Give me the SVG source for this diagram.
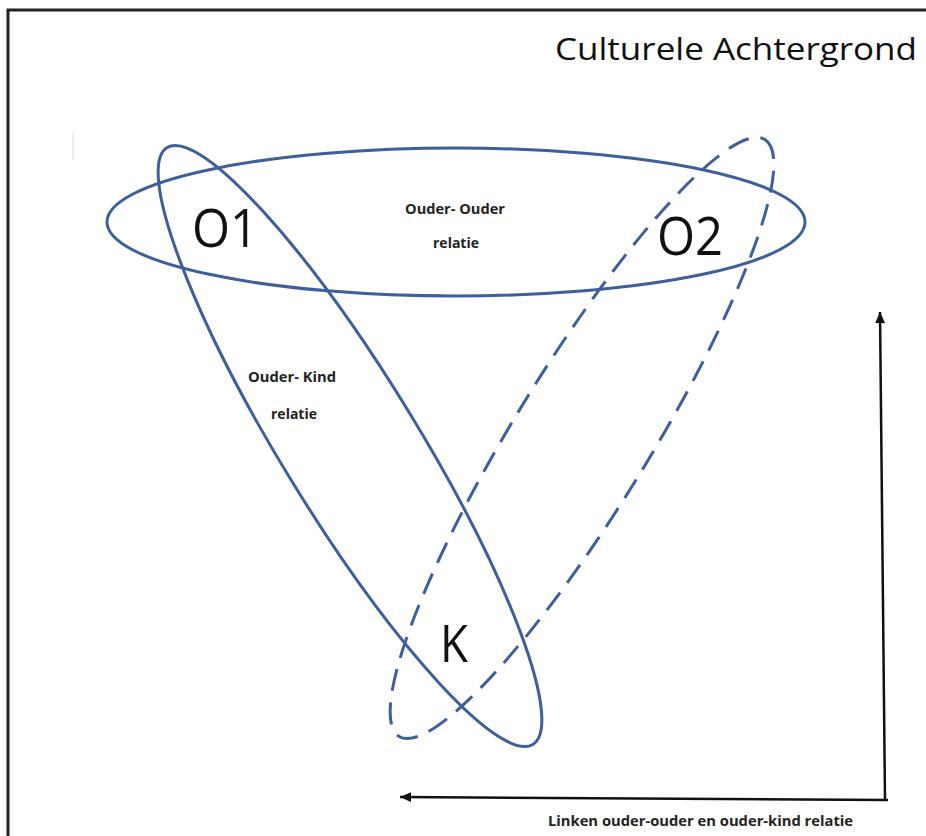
<svg xmlns="http://www.w3.org/2000/svg" width="926" height="836" viewBox="0 0 926 836">
  <style>
    .rel { fill: none; stroke: #3D5F9B; stroke-width: 3; }
    .dash { stroke-dasharray: 22 12; }
    .big { font-family: "Open Sans", "Noto Sans", "Liberation Sans", sans-serif; fill: #111; }
    .small { font-family: "Open Sans", "Noto Sans", "Liberation Sans", sans-serif; font-weight: bold; font-size: 14px; fill: #222; }
    .arrow { fill: none; stroke: #111; stroke-width: 2.5; }
  </style>
  <defs>
    <marker id="head" viewBox="0 0 10 10" refX="10" refY="5" markerWidth="11" markerHeight="11" markerUnits="userSpaceOnUse" orient="auto">
      <path d="M0,0.5 L10,5 L0,9.5 z" fill="#111"/>
    </marker>
  </defs>
  <rect x="0" y="0" width="926" height="836" fill="#fff"/>
  <path d="M8,836 V10 H926" fill="none" stroke="#222" stroke-width="3"/>
  <line x1="73" y1="132" x2="73" y2="160" stroke="#ddd" stroke-width="1"/>

  <text class="big" x="555" y="60" font-size="31" textLength="362" lengthAdjust="spacingAndGlyphs">Culturele Achtergrond</text>

  <g id="relatie-ouder-ouder">
    <ellipse class="rel" cx="456" cy="222" rx="349" ry="74"/>
    <text class="small" x="455" y="214" text-anchor="middle" textLength="100" lengthAdjust="spacingAndGlyphs">Ouder- Ouder</text>
    <text class="small" x="456" y="248" text-anchor="middle" textLength="46" lengthAdjust="spacingAndGlyphs">relatie</text>
  </g>
  <g id="relatie-ouder1-kind">
    <ellipse class="rel" cx="350" cy="446" rx="350" ry="68" transform="rotate(58.5 350 446)"/>
    <text class="small" x="292" y="382" text-anchor="middle" textLength="88" lengthAdjust="spacingAndGlyphs">Ouder- Kind</text>
    <text class="small" x="294" y="419" text-anchor="middle" textLength="46" lengthAdjust="spacingAndGlyphs">relatie</text>
  </g>
  <g id="relatie-ouder2-kind">
    <ellipse class="rel dash" cx="582" cy="438" rx="350" ry="68" transform="rotate(-58.5 582 438)"/>
  </g>
  <g id="O1"><text class="big" x="192" y="247" font-size="53" textLength="66" lengthAdjust="spacingAndGlyphs">O1</text></g>
  <g id="O2"><text class="big" x="657" y="255" font-size="53" textLength="66" lengthAdjust="spacingAndGlyphs">O2</text></g>
  <g id="K"><text class="big" x="440" y="662" font-size="52" textLength="28" lengthAdjust="spacingAndGlyphs">K</text></g>

  <g id="connectors">
    <line class="arrow" x1="885" y1="800" x2="880" y2="312" marker-end="url(#head)"/>
    <line class="arrow" x1="888" y1="800" x2="400" y2="797" marker-end="url(#head)"/>
  </g>
  <text class="small" x="548" y="826" textLength="305" lengthAdjust="spacingAndGlyphs">Linken ouder-ouder en ouder-kind relatie</text>
</svg>
